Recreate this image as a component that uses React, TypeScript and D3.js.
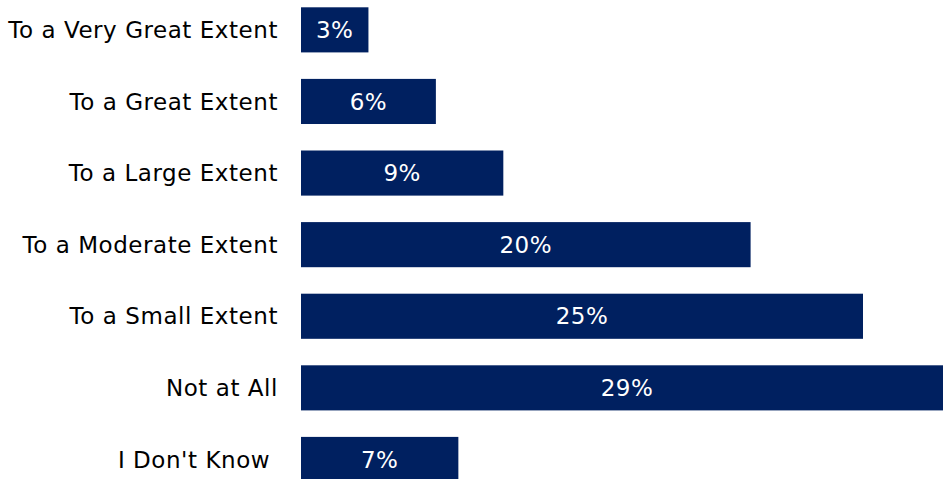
import React from "react";
import * as d3 from "d3";

const categories = [
  "To a Very Great Extent",
  "To a Great Extent",
  "To a Large Extent",
  "To a Moderate Extent",
  "To a Small Extent",
  "Not at All",
  "I Don't Know\u00a0",
];
const values = [3, 6, 9, 20, 25, 29, 7];
const valueLabels = ["3%", "6%", "9%", "20%", "25%", "29%", "7%"];

const W = 943;
const H = 479;

export default function App() {
  const x = d3.scaleLinear().domain([0, 25]).range([301, 863]);
  const y = d3
    .scaleBand<string>()
    .domain(categories)
    .range([7.3 - 71.6 * 0.185, 7.3 - 71.6 * 0.185 + 71.6 * 7])
    .paddingInner(0.37)
    .paddingOuter(0.185);
  const bw = y.bandwidth();
  return (
    <svg
      width={W}
      height={H}
      style={{ position: "absolute", left: 0, top: 0 }}
      fontFamily="'DejaVu Sans', Verdana, sans-serif"
    >
      <rect x={0} y={0} width={W} height={H} fill="#ffffff" />
      {categories.map((c, i) => {
        const y0 = y(c)!;
        const x0 = x(0);
        const x1 = x(values[i]);
        return (
          <g key={c}>
            <rect x={x0} y={y0} width={x1 - x0} height={bw} fill="#002060" />
            <text
              x={(x0 + x1) / 2}
              y={y0 + bw / 2}
              dy="0.35em"
              textAnchor="middle"
              fill="#ffffff"
              fontSize={23}
              letterSpacing={0.5}
            >
              {valueLabels[i]}
            </text>
            <text
              x={278}
              y={y0 + bw / 2}
              dy="0.35em"
              textAnchor="end"
              fill="#000000"
              fontSize={23}
              letterSpacing={0.55}
              style={{ whiteSpace: "pre" }}
            >
              {c}
            </text>
          </g>
        );
      })}
    </svg>
  );
}
